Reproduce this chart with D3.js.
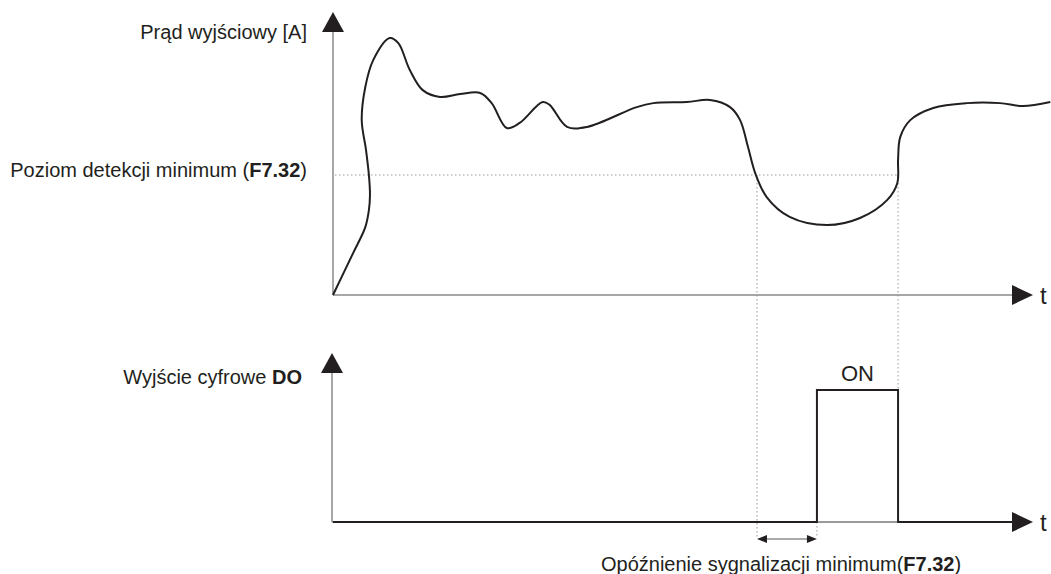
<!DOCTYPE html>
<html>
<head>
<meta charset="utf-8">
<script src="https://cdn.jsdelivr.net/npm/d3@7"></script>
<style>
  body { margin: 0; background: #fff; }
  text { font-family: "Liberation Sans", Arial, sans-serif; font-size: 20px; fill: #231f20; }
</style>
</head>
<body>
<div id="chart"></div>
<script>
// output current (t in % of time span, I in arbitrary units 0..10)
var currentT = [0, 2.8, 4.5, 5.0, 5.15, 5.0, 4.6, 4.0, 4.5, 5.6, 7.9, 9.1, 10.7, 12.5, 14.9, 17.7, 20.5, 22.1, 24.2, 26.0,
                29.2, 30.2, 32.6, 35.4, 42.3, 44.6, 49.3, 52.5, 55.3, 56.7, 57.8, 58.8, 60.4, 63.6, 68.8,
                73.4, 77.2, 78.6, 78.7, 79.0, 80.4, 83.6, 88.3, 92.9, 96.1, 99.9];
var currentI = [0, 1.48, 2.4, 3.0, 3.53, 4.24, 5.12, 6.18, 7.35, 8.3, 9.08, 8.9, 7.95, 7.24, 7.0, 7.1, 7.14, 6.78, 5.9, 6.08,
                6.82, 6.71, 5.94, 5.94, 6.64, 6.78, 6.82, 6.89, 6.64, 6.18, 5.23, 4.31, 3.46, 2.76, 2.47,
                2.72, 3.36, 3.96, 4.77, 5.58, 6.18, 6.61, 6.78, 6.78, 6.68, 6.82];
var thresholdI = 4.24;
var crossDown = 59.05;   // current falls below threshold
var crossUp = 78.7;      // current goes back above threshold
var doOn = 67.4;         // DO switches on after the delay
// digital output states (step after)
var doT = [0, 67.4, 78.7, 95];
var doV = [0, 1, 0, 0];

var labels = {
    current: "Prąd wyjściowy [A]",
    level: "Poziom detekcji minimum (",
    levelBold: "F7.32",
    digital: "Wyjście cyfrowe ",
    digitalBold: "DO",
    on: "ON",
    delay: "Opóźnienie sygnalizacji minimum(",
    delayBold: "F7.32",
    t: "t"
};

function init(){
    var w = 1051;
    var h = 574;
    var axisColor = "#8a8a8a";
    var ink = "#231f20";

    var svg = d3.select("#chart")
                .append("svg")
                .attr("width", w)
                .attr("height", h);

    var x = d3.scaleLinear()
                .domain([0, 100])
                .range([333, 1051]);

    var yTop = d3.scaleLinear()
                .domain([0, 10])
                .range([295, 12]);

    var yBot = d3.scaleLinear()
                .domain([0, 1])
                .range([522, 390]);

    var xEnd = 1013; // axis line end (arrow base)

    // dotted guides
    var dots = svg.append("g")
        .attr("stroke", "#9a9a9a")
        .attr("stroke-width", 1)
        .attr("stroke-dasharray", "1.5,2.5")
        .attr("fill", "none");
    dots.append("line")
        .attr("x1", x(0) + 2).attr("x2", x(crossUp))
        .attr("y1", yTop(thresholdI)).attr("y2", yTop(thresholdI));
    dots.append("line")
        .attr("x1", x(crossDown)).attr("x2", x(crossDown))
        .attr("y1", yTop(thresholdI)).attr("y2", 538);
    dots.append("line")
        .attr("x1", x(crossUp)).attr("x2", x(crossUp))
        .attr("y1", yTop(thresholdI)).attr("y2", yBot(1));
    dots.append("line")
        .attr("x1", x(doOn)).attr("x2", x(doOn))
        .attr("y1", yBot(0)).attr("y2", 538);

    // axes
    function arrowUp(cx, tipY) {
        svg.append("path")
            .attr("d", "M" + cx + "," + tipY + "L" + (cx + 11) + "," + (tipY + 20) + "L" + (cx - 11) + "," + (tipY + 20) + "Z")
            .attr("fill", ink);
    }
    function arrowRight(tipX, cy) {
        svg.append("path")
            .attr("d", "M" + tipX + "," + cy + "L" + (tipX - 21) + "," + (cy - 10) + "L" + (tipX - 21) + "," + (cy + 10) + "Z")
            .attr("fill", ink);
    }

    var axes = svg.append("g").attr("stroke", axisColor).attr("stroke-width", 1.5);
    axes.append("line").attr("x1", x(0)).attr("x2", x(0)).attr("y1", yTop(0)).attr("y2", 30);
    axes.append("line").attr("x1", x(0)).attr("x2", xEnd).attr("y1", yTop(0)).attr("y2", yTop(0));
    axes.append("line").attr("x1", x(0) - 1).attr("x2", x(0) - 1).attr("y1", yBot(0)).attr("y2", 372);
    axes.append("line").attr("x1", x(0) - 1).attr("x2", xEnd).attr("y1", yBot(0)).attr("y2", yBot(0));

    arrowUp(x(0), 12);
    arrowRight(1033, yTop(0));
    arrowUp(x(0) - 1, 353);
    arrowRight(1033, yBot(0));

    // current curve
    var pts = currentT.map(function(t, i) { return [t, currentI[i]]; });
    var line = d3.line()
        .x(function(d) { return x(d[0]); })
        .y(function(d) { return yTop(d[1]); })
        .curve(d3.curveCatmullRom.alpha(0.5));
    svg.append("path")
        .datum(pts)
        .attr("d", line)
        .attr("fill", "none")
        .attr("stroke", ink)
        .attr("stroke-width", 2);

    // digital output
    var doPts = doT.map(function(t, i) { return [t, doV[i]]; });
    doPts[doPts.length - 1][0] = x.invert(xEnd);
    var stepLine = d3.line()
        .x(function(d) { return x(d[0]); })
        .y(function(d) { return yBot(d[1]); })
        .curve(d3.curveStepAfter);
    svg.append("path")
        .datum(doPts)
        .attr("d", stepLine)
        .attr("fill", "none")
        .attr("stroke", ink)
        .attr("stroke-width", 2);
    // axis under the pulse stays gray
    svg.append("line")
        .attr("x1", x(doOn) + 1).attr("x2", x(crossUp) - 1)
        .attr("y1", yBot(0)).attr("y2", yBot(0))
        .attr("stroke", "#9a9a9a").attr("stroke-width", 2);

    // delay double arrow
    var ay = 539;
    svg.append("line")
        .attr("x1", x(crossDown) + 8).attr("x2", x(doOn) - 8)
        .attr("y1", ay).attr("y2", ay)
        .attr("stroke", "#555").attr("stroke-width", 1.2);
    svg.append("path")
        .attr("d", "M" + x(crossDown) + "," + ay + "l10,-4l0,8Z")
        .attr("fill", ink);
    svg.append("path")
        .attr("d", "M" + x(doOn) + "," + ay + "l-10,-4l0,8Z")
        .attr("fill", ink);

    // texts
    svg.append("text").attr("x", 307).attr("y", 39).attr("text-anchor", "end").text(labels.current);

    var t1 = svg.append("text").attr("x", 307).attr("y", 177).attr("text-anchor", "end");
    t1.append("tspan").text(labels.level);
    t1.append("tspan").attr("font-weight", "bold").text(labels.levelBold);
    t1.append("tspan").text(")");

    var t2 = svg.append("text").attr("x", 302).attr("y", 384).attr("text-anchor", "end");
    t2.append("tspan").text(labels.digital);
    t2.append("tspan").attr("font-weight", "bold").text(labels.digitalBold);

    svg.append("text").attr("x", (x(doOn) + x(crossUp)) / 2).attr("y", 381)
        .attr("text-anchor", "middle").style("font-size", "22px").text(labels.on);

    var t3 = svg.append("text").attr("x", 601).attr("y", 571);
    t3.append("tspan").text(labels.delay);
    t3.append("tspan").attr("font-weight", "bold").text(labels.delayBold);
    t3.append("tspan").text(")");

    svg.append("text").attr("x", 1040).attr("y", yTop(0) + 9).style("font-size", "24px").text(labels.t);
    svg.append("text").attr("x", 1040).attr("y", yBot(0) + 9).style("font-size", "24px").text(labels.t);
}
window.onload = init;
</script>
</body>
</html>
